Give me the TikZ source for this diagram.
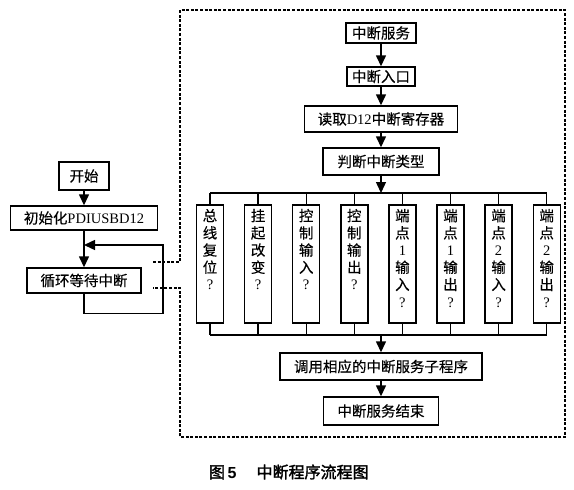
\documentclass[tikz,border=0pt]{standalone}
\usepackage{fontspec}
\setmainfont{Liberation Serif}
\setsansfont{Liberation Sans}
\newfontfamily\cjk[FakeBold=0.3]{Noto Sans CJK SC}
\newfontfamily\cjkbf[FakeBold=2]{Noto Sans CJK SC}
\usetikzlibrary{positioning,calc,arrows.meta}
\newcommand{\la}[1]{{\rmfamily #1}}

\begin{document}
\begin{tikzpicture}[x=1pt,y=-1pt,line width=1.4pt,
  box/.style={draw,inner sep=0pt,font=\cjk\fontsize{14.5}{17.2}\selectfont},
  tallbox/.style={box,minimum width=27pt,minimum height=118pt},
  arr/.style={-{Triangle[length=11pt,width=10pt]}},
  frame/.style={dash pattern=on 3pt off 1.6pt,line width=1.3pt}]
  \useasboundingbox (0,0) rectangle (574,490);

  % main loop
  \node[box,minimum width=50pt,minimum height=28pt] (start) at (84,176) {开始};
  \node[box,minimum width=147pt,minimum height=24pt] (init) at (84,218) {初始化\la{PDIUSBD12}};
  \node[box,minimum width=114pt,minimum height=25pt] (wait) at (84,280.5) {循环等待中断};
  \coordinate (back) at (84,245);
  \draw[arr] (start) -- (init);
  \draw[arr] (init) -- (wait);
  \draw[arr] (wait.south) -- ++(0,20) -| (163,245) -- (back);

  % interrupt service
  \node[box,minimum width=70pt,minimum height=20pt] (isr) at (381,33) {中断服务};
  \node[box,minimum width=68pt,minimum height=19pt] (entry) at (381,76.5) {中断入口};
  \node[box,minimum width=153pt,minimum height=26pt] (readreg) at (381,119) {读取\la{D12}中断寄存器};
  \node[box,minimum width=116pt,minimum height=27pt] (judge) at (381,161.5) {判断中断类型};
  \draw[arr] (isr) -- (entry);
  \draw[arr] (entry) -- (readreg);
  \draw[arr] (readreg) -- (judge);

  % interrupt types
  \coordinate (bustop) at (381,193);
  \coordinate (busbot) at (381,335);
  \foreach \i/\txt in {1/{总\\线\\复\\位\\\la{?}},2/{挂\\起\\改\\变\\\la{?}},
      3/{控\\制\\输\\入\\\la{?}},4/{控\\制\\输\\出\\\la{?}},
      5/{端\\点\\\la{1}\\输\\入\\\la{?}},6/{端\\点\\\la{1}\\输\\出\\\la{?}},
      7/{端\\点\\\la{2}\\输\\入\\\la{?}},8/{端\\点\\\la{2}\\输\\出\\\la{?}}}{
    \node[tallbox] (t\i) at ({210+(\i-1)*48.1},264)
      {\parbox[c][110pt][t]{24pt}{\centering \txt}};
    \draw (t\i.north |- bustop) -- (t\i.north);
    \draw (t\i.south) -- (t\i.south |- busbot);
  }
  \draw (t1.north |- bustop) -- (t8.north |- bustop);
  \draw (t1.south |- busbot) -- (t8.south |- busbot);
  \draw[arr] (judge) -- (bustop);

  \node[box,minimum width=202pt,minimum height=27pt] (call) at (381,366.5) {调用相应的中断服务子程序};
  \node[box,minimum width=115pt,minimum height=28pt] (isrend) at (381,411) {中断服务结束};
  \draw[arr] (busbot) -- (call);
  \draw[arr] (call) -- (isrend);

  % dashed frame
  \draw[frame] (153,262) -- (180,262) -- (180,10) -- (565,10) -- (565,437)
    -- (180,437) -- (180,288) -- (153,288);

  \node[anchor=west,font=\cjkbf\fontsize{16}{18}\selectfont] (cap) at (205,472)
    {图\,{\sffamily\bfseries 5}\hspace{20pt}中断程序流程图};
\end{tikzpicture}
\end{document}
